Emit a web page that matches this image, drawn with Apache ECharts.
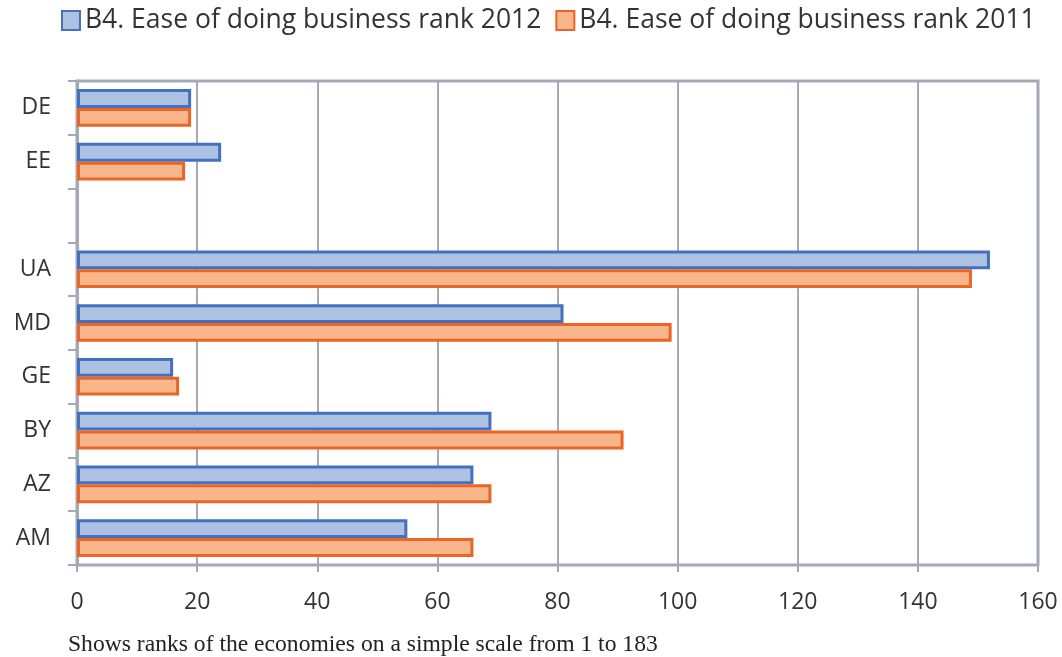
<!DOCTYPE html>
<html>
<head>
<meta charset="utf-8">
<script src="https://cdn.jsdelivr.net/npm/echarts@6/dist/echarts.min.js"></script>
<style>
  html, body { margin: 0; padding: 0; background: #fff; }
  #chart { width: 1062px; height: 657px; }
</style>
</head>
<body>
<div id="chart"></div>
<script>
// 国家（从上到下），空白行为 ''
var countries = ['DE', 'EE', '', 'UA', 'MD', 'GE', 'BY', 'AZ', 'AM'];
var rank2012 = [19, 24, null, 152, 81, 16, 69, 66, 55];
var rank2011 = [19, 18, null, 149, 99, 17, 91, 69, 66];
var xTicks = [0, 20, 40, 60, 80, 100, 120, 140, 160];
var seriesNames = ['B4. Ease of doing business rank 2012', 'B4. Ease of doing business rank 2011'];
var note = 'Shows ranks of the economies on a simple scale from 1 to 183';

(function () {
  var myChart = echarts.init(document.getElementById('chart'));
  var gridColor = '#a3aab5';
  var option = {
    animation: false,
    textStyle: { fontFamily: 'Open Sans' },
    legend: {
      top: 2,
      left: 56,
      icon: 'rect',
      itemWidth: 18,
      itemHeight: 19,
      itemGap: 14,
      textStyle: { fontSize: 26.5, color: '#333', fontFamily: 'Open Sans' },
      data: seriesNames
    },
    grid: {
      left: 77,
      right: 24,
      top: 81,
      bottom: 92,
      show: true,
      borderColor: gridColor,
      borderWidth: 3
    },
    xAxis: {
      type: 'value',
      min: xTicks[0],
      max: xTicks[xTicks.length - 1],
      interval: 20,
      axisLine: { show: false },
      axisTick: { show: true, length: 7, lineStyle: { color: gridColor, width: 2 } },
      axisLabel: { fontSize: 23, color: '#333', margin: 26 },
      splitLine: { lineStyle: { color: gridColor, width: 2 } }
    },
    yAxis: {
      type: 'category',
      inverse: true,
      data: countries,
      axisLine: { show: true, lineStyle: { color: gridColor, width: 3 } },
      axisTick: { show: true, length: 9, lineStyle: { color: gridColor, width: 2 } },
      axisLabel: { fontSize: 23, color: '#333', margin: 26 },
      splitLine: { show: false }
    },
    series: [
      {
        name: seriesNames[0],
        type: 'bar',
        barCategoryGap: '30%',
        barGap: '0%',
        data: rank2012,
        itemStyle: { color: '#adc1e2', borderColor: '#4470c0', borderWidth: 3 }
      },
      {
        name: seriesNames[1],
        type: 'bar',
        barCategoryGap: '30%',
        barGap: '0%',
        data: rank2011,
        itemStyle: { color: '#f8b68a', borderColor: '#ea6526', borderWidth: 3 }
      }
    ],
    graphic: [
      {
        type: 'text',
        left: 68,
        top: 633,
        style: { text: note, fontSize: 23.6, fill: '#222', fontFamily: 'Liberation Serif' }
      }
    ]
  };
  myChart.setOption(option);
  window.addEventListener('resize', function () {
    myChart.resize();
  });
})();
</script>
</body>
</html>
